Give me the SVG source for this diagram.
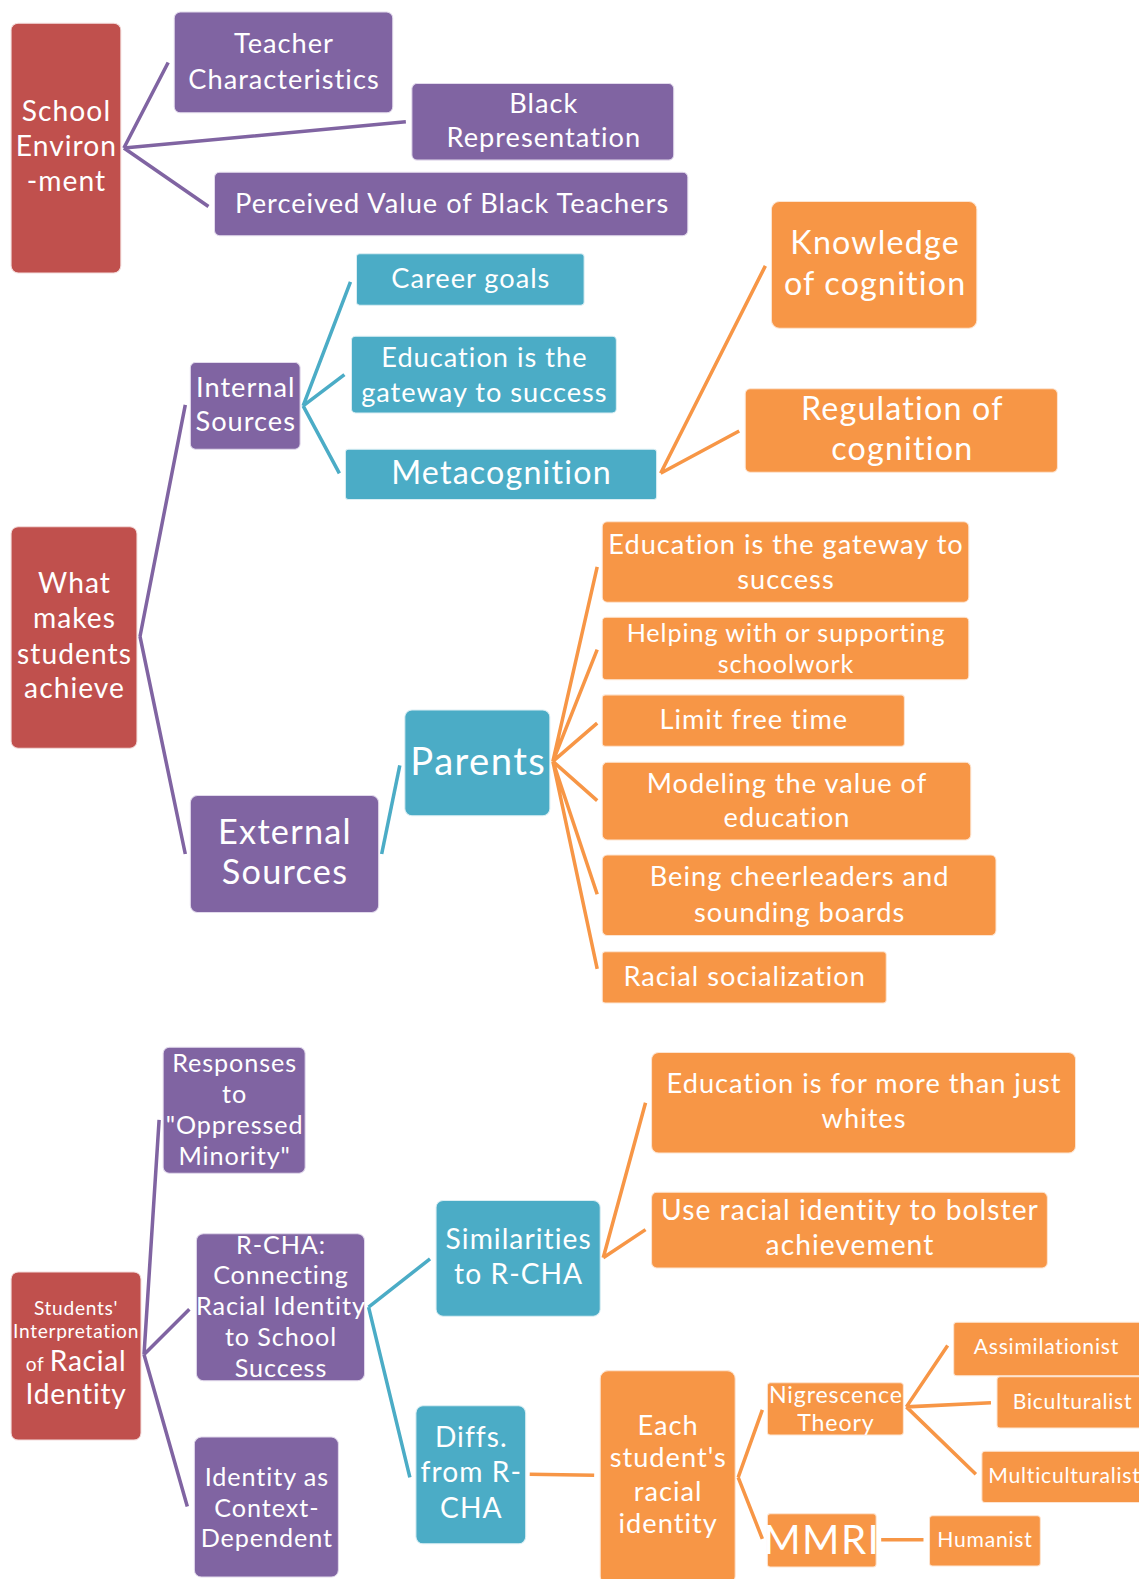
<svg xmlns="http://www.w3.org/2000/svg" width="1139" height="1579" viewBox="0 0 1139 1579">
<style>
.r{fill:#C0504D;stroke:#F3DCDB;stroke-width:1}
.p{fill:#8064A2;stroke:#E2DAEC;stroke-width:1}
.t{fill:#4BACC6;stroke:#DBEEF3;stroke-width:1}
.o{fill:#F79646;stroke:#FDE5D2;stroke-width:1}
text{font-family:Lato,"Open Sans","Liberation Sans",sans-serif;fill:#fff;text-anchor:middle;letter-spacing:0.037em}
.cp{stroke:#8064A2;stroke-width:3.5;fill:none}
.ct{stroke:#4BACC6;stroke-width:3.5;fill:none}
.co{stroke:#F79646;stroke-width:3.5;fill:none}
</style>
<rect width="1139" height="1579" fill="#fff"/>
<g transform="scale(1.00707)">
<g id="connectors">
<path class="cp" d="M123,147L167,62M123,147L403,121M123,147L207,205"/>
<path class="cp" d="M139,632L184,402M139,632L184,848"/>
<path class="ct" d="M301,403L348,280M301,403L342,372M301,403L337,470"/>
<path class="co" d="M656,470L760,264M656,470L734,428"/>
<path class="ct" d="M379,848L397,760"/>
<path class="co" d="M549,756L593,563M549,756L593,645M549,756L593,718M549,756L593,795M549,756L593,888M549,756L593,962"/>
<path class="cp" d="M143,1345L158,1112M143,1345L188,1300M143,1345L186,1496"/>
<path class="ct" d="M366,1298L427,1250M366,1298L407,1467"/>
<path class="co" d="M599,1249L641,1095M599,1249L641,1221"/>
<path class="co" d="M526,1464L590,1465"/>
<path class="co" d="M733,1467L757,1400M733,1467L757,1528"/>
<path class="co" d="M900,1397L941,1336M900,1397L984,1393M900,1397L969,1464"/>
<path class="co" d="M875,1529L917,1529"/>
</g>
<g id="school-env"><rect class="r" x="11" y="23" width="109" height="248" rx="7"/><text font-size="28"><tspan x="66" y="120">School</tspan><tspan x="66" y="155">Environ</tspan><tspan x="66" y="190">-ment</tspan></text></g>
<g id="teacher-char"><rect class="p" x="173" y="12" width="217" height="100" rx="6"/><text font-size="27"><tspan x="282" y="53">Teacher</tspan><tspan x="282" y="88">Characteristics</tspan></text></g>
<g id="black-rep"><rect class="p" x="409" y="83" width="260" height="76" rx="5"/><text font-size="27"><tspan x="540" y="112">Black</tspan><tspan x="540" y="146">Representation</tspan></text></g>
<g id="perceived"><rect class="p" x="213" y="171" width="470" height="63" rx="5"/><text x="449" y="212" font-size="27">Perceived Value of Black Teachers</text></g>
<g id="what-makes"><rect class="r" x="11" y="523" width="125" height="220" rx="7"/><text font-size="28"><tspan x="74" y="589">What</tspan><tspan x="74" y="624">makes</tspan><tspan x="74" y="659">students</tspan><tspan x="74" y="693">achieve</tspan></text></g>
<g id="internal"><rect class="p" x="189" y="360" width="109" height="86" rx="5"/><text font-size="27" letter-spacing="0.02em"><tspan x="244" y="394">Internal</tspan><tspan x="244" y="428">Sources</tspan></text></g>
<g id="external"><rect class="p" x="189" y="790" width="187" height="116" rx="7"/><text font-size="34"><tspan x="283" y="838">External</tspan><tspan x="283" y="878">Sources</tspan></text></g>
<g id="career"><rect class="t" x="354" y="252" width="226" height="51" rx="3"/><text x="467.5" y="286" font-size="27">Career goals</text></g>
<g id="edu-gateway-int"><rect class="t" x="349" y="334" width="263" height="76" rx="4"/><text font-size="27"><tspan x="481" y="364">Education is the</tspan><tspan x="481" y="399">gateway to success</tspan></text></g>
<g id="metacognition"><rect class="t" x="343" y="446" width="309" height="50" rx="3"/><text x="498" y="481" font-size="32">Metacognition</text></g>
<g id="knowledge"><rect class="o" x="766" y="200" width="204" height="126" rx="8"/><text font-size="32"><tspan x="869" y="252">Knowledge</tspan><tspan x="869" y="293">of cognition</tspan></text></g>
<g id="regulation"><rect class="o" x="740" y="386" width="310" height="83" rx="5"/><text font-size="32"><tspan x="896" y="417">Regulation of</tspan><tspan x="896" y="457">cognition</tspan></text></g>
<g id="parents"><rect class="t" x="402" y="705" width="144" height="105" rx="7"/><text x="475" y="770" font-size="38">Parents</text></g>
<g id="edu-gateway-par"><rect class="o" x="598" y="518" width="364" height="80" rx="5"/><text font-size="27"><tspan x="780.5" y="550">Education is the gateway to</tspan><tspan x="780.5" y="585">success</tspan></text></g>
<g id="helping"><rect class="o" x="598" y="613" width="364" height="62" rx="4"/><text font-size="25"><tspan x="780.5" y="637">Helping with or supporting</tspan><tspan x="780.5" y="668">schoolwork</tspan></text></g>
<g id="limit"><rect class="o" x="598" y="690" width="300" height="51" rx="3"/><text x="748.5" y="724" font-size="27">Limit free time</text></g>
<g id="modeling"><rect class="o" x="598" y="757" width="366" height="77" rx="5"/><text font-size="27"><tspan x="781.5" y="787">Modeling the value of</tspan><tspan x="781.5" y="821">education</tspan></text></g>
<g id="cheerleaders"><rect class="o" x="598" y="849" width="391" height="80" rx="5"/><text font-size="27"><tspan x="794" y="880">Being cheerleaders and</tspan><tspan x="794" y="916">sounding boards</tspan></text></g>
<g id="racial-soc"><rect class="o" x="598" y="945" width="282" height="51" rx="3"/><text x="739.5" y="979" font-size="27">Racial socialization</text></g>
<g id="students-interp"><rect class="r" x="11" y="1263" width="129" height="167" rx="7"/><text font-size="19" letter-spacing="0"><tspan x="75.5" y="1306">Students'</tspan><tspan x="75.5" y="1329">Interpretation</tspan><tspan x="75.5" y="1361">of <tspan font-size="28">Racial</tspan></tspan><tspan x="75.5" y="1394" font-size="28">Identity</tspan></text></g>
<g id="responses"><rect class="p" x="162" y="1040" width="141" height="125" rx="6"/><text font-size="25" letter-spacing="0.015em"><tspan x="233" y="1064">Responses</tspan><tspan x="233" y="1095">to</tspan><tspan x="233" y="1126">"Oppressed</tspan><tspan x="233" y="1157">Minority"</tspan></text></g>
<g id="rcha"><rect class="p" x="195" y="1225" width="167" height="146" rx="7"/><text font-size="25" letter-spacing="0.015em"><tspan x="279" y="1245">R-CHA:</tspan><tspan x="279" y="1275">Connecting</tspan><tspan x="279" y="1306">Racial Identity</tspan><tspan x="279" y="1337">to School</tspan><tspan x="279" y="1367">Success</tspan></text></g>
<g id="identity-context"><rect class="p" x="193" y="1427" width="143" height="139" rx="7"/><text font-size="25" letter-spacing="0.025em"><tspan x="265" y="1476">Identity as</tspan><tspan x="265" y="1506">Context-</tspan><tspan x="265" y="1536">Dependent</tspan></text></g>
<g id="similarities"><rect class="t" x="433" y="1192" width="163" height="115" rx="7"/><text font-size="28" letter-spacing="0.025em"><tspan x="515" y="1240">Similarities</tspan><tspan x="515" y="1275">to R-CHA</tspan></text></g>
<g id="diffs"><rect class="t" x="413" y="1396" width="109" height="137" rx="7"/><text font-size="28"><tspan x="468" y="1437">Diffs.</tspan><tspan x="468" y="1472">from R-</tspan><tspan x="468" y="1507">CHA</tspan></text></g>
<g id="edu-more"><rect class="o" x="647" y="1045" width="421" height="100" rx="7"/><text font-size="27"><tspan x="858" y="1085">Education is for more than just</tspan><tspan x="858" y="1120">whites</tspan></text></g>
<g id="use-racial"><rect class="o" x="647" y="1184" width="393" height="75" rx="5"/><text font-size="28"><tspan x="844" y="1211">Use racial identity to bolster</tspan><tspan x="844" y="1246">achievement</tspan></text></g>
<g id="each-student"><rect class="o" x="596" y="1361" width="134" height="212" rx="8"/><text font-size="27"><tspan x="663.5" y="1425">Each</tspan><tspan x="663.5" y="1457">student's</tspan><tspan x="663.5" y="1490">racial</tspan><tspan x="663.5" y="1522">identity</tspan></text></g>
<g id="nigrescence"><rect class="o" x="762" y="1373" width="135" height="52" rx="3"/><text font-size="23" letter-spacing="0.02em"><tspan x="830" y="1393">Nigrescence</tspan><tspan x="830" y="1421">Theory</tspan></text></g>
<g id="mmri"><rect class="o" x="762" y="1503" width="108" height="53" rx="3"/><text x="816" y="1543" font-size="40" letter-spacing="0">MMRI</text></g>
<g id="assimilationist"><rect class="o" x="947" y="1313" width="200" height="53" rx="3"/><text x="1039" y="1344" font-size="21">Assimilationist</text></g>
<g id="biculturalist"><rect class="o" x="990" y="1367" width="157" height="51" rx="3"/><text x="1065" y="1399" font-size="21">Biculturalist</text></g>
<g id="multiculturalist"><rect class="o" x="975" y="1441" width="172" height="51" rx="3"/><text x="1057" y="1473" font-size="21" letter-spacing="0.01em">Multiculturalist</text></g>
<g id="humanist"><rect class="o" x="923" y="1505" width="110" height="50" rx="3"/><text x="978" y="1536" font-size="21">Humanist</text></g>
</g>
</svg>
